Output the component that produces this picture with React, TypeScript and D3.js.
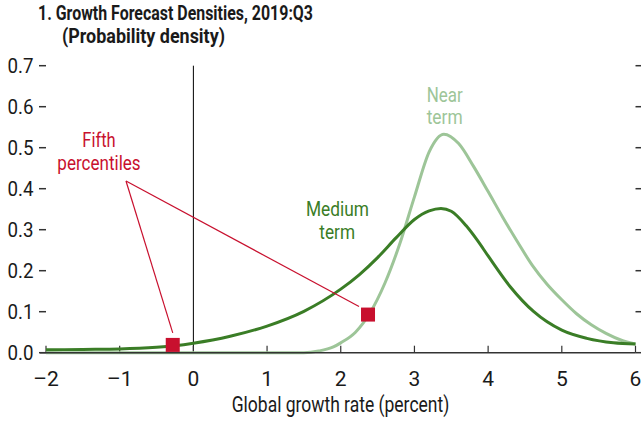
import React from "react";
import * as d3 from "d3";

const xTicks = [-2, -1, 0, 1, 2, 3, 4, 5, 6];
const yTicks = [0, 0.1, 0.2, 0.3, 0.4, 0.5, 0.6, 0.7];

const nearX = [-2, 0, 1.5, 1.7, 1.9, 2.0, 2.2, 2.4, 2.6, 2.8, 3.0, 3.2, 3.4, 3.6, 3.8, 4.0, 4.2, 4.4, 4.6, 4.8, 5.0, 5.2, 5.4, 5.6, 5.8, 6.0];
const nearY = [0, 0, 0, 0.004, 0.014, 0.024, 0.05, 0.098, 0.17, 0.265, 0.38, 0.49, 0.533, 0.51, 0.455, 0.393, 0.33, 0.27, 0.213, 0.167, 0.129, 0.095, 0.068, 0.047, 0.031, 0.021];

const medX = [-2, -1.5, -1, -0.5, -0.25, 0, 0.5, 1, 1.5, 2, 2.25, 2.5, 2.75, 3.0, 3.2, 3.36, 3.5, 3.7, 3.85, 4.0, 4.3, 4.62, 5.0, 5.34, 5.7, 6.0];
const medY = [0.007, 0.008, 0.009, 0.013, 0.017, 0.023, 0.04, 0.065, 0.101, 0.155, 0.19, 0.232, 0.28, 0.325, 0.346, 0.352, 0.345, 0.31, 0.275, 0.236, 0.161, 0.1, 0.055, 0.035, 0.024, 0.021];

const pctX = [-0.28, 2.37];
const pctY = [0.019, 0.093];

const NEAR = "#9dc598";
const MED = "#3a7d26";
const RED = "#c8102e";
const INK = "#1a1a1a";
const FONT = "Roboto, 'Liberation Sans', sans-serif";

type TProps = { x: number; y: number; w?: number; size: number; fill: string; anchor?: string; bold?: boolean; children: string };
function T({ x, y, w, size, fill, anchor = "start", bold = false, children }: TProps) {
  return (
    <text
      x={x}
      y={y}
      fontSize={size}
      fill={fill}
      textAnchor={anchor}
      fontWeight={bold ? "bold" : "normal"}
      {...(w ? { textLength: w, lengthAdjust: "spacingAndGlyphs" } : {})}
    >
      {children}
    </text>
  );
}

export default function App() {
  const W = 641, H = 424;
  const x = d3.scaleLinear().domain([-2, 6]).range([46, 635.5]);
  const y = d3.scaleLinear().domain([0, 0.7]).range([352.7, 65.7]);
  const line = d3.line<[number, number]>().x(d => x(d[0])).y(d => y(d[1])).curve(d3.curveMonotoneX);
  const near = line(nearX.map((v, i) => [v, nearY[i]]) as [number, number][]) || "";
  const med = line(medX.map((v, i) => [v, medY[i]]) as [number, number][]) || "";
  const annX = 126, annY = 181;
  const sq = 14;
  return (
    <svg width={W} height={H} style={{ position: "absolute", left: 0, top: 0 }} fontFamily={FONT}>
      <rect width={W} height={H} fill="#fff" />
      <T x={38} y={20} w={275} size={19.5} bold fill={INK}>1. Growth Forecast Densities, 2019:Q3</T>
      <T x={62} y={42.5} w={163} size={19.5} bold fill={INK}>(Probability density)</T>
      {yTicks.map(t => (
        <g key={t}>
          <T x={33.5} y={y(t) + 7.4} w={26} size={21} anchor="end" fill={INK}>{t.toFixed(1)}</T>
          <line x1={39} x2={46} y1={y(t)} y2={y(t)} stroke="#333" strokeWidth={1.5} />
          <line x1={635.5} x2={641} y1={y(t)} y2={y(t)} stroke="#333" strokeWidth={1.5} />
        </g>
      ))}
      <line x1={x(0)} x2={x(0)} y1={y(0.7)} y2={y(0)} stroke="#000" strokeWidth={1} />
      {xTicks.map(t => (
        <g key={t}>
          <line x1={x(t)} x2={x(t)} y1={y(0)} y2={y(0) - 7} stroke="#333" strokeWidth={1.2} />
          <T x={x(t)} y={385.7} size={21} anchor="middle" fill={INK}>{t < 0 ? "\u2013" + Math.abs(t) : String(t)}</T>
        </g>
      ))}
      <path d={near} fill="none" stroke={NEAR} strokeWidth={3} />
      <path d={med} fill="none" stroke={MED} strokeWidth={3} />
      <line x1={40} x2={x(6)} y1={y(0)} y2={y(0)} stroke="#333" strokeWidth={1.5} />
      <line x1={annX} y1={annY} x2={x(pctX[0])} y2={y(pctY[0]) - sq / 2 - 5} stroke={RED} strokeWidth={1.2} />
      <line x1={annX} y1={annY} x2={x(pctX[1]) - sq / 2 - 2} y2={y(pctY[1]) - sq / 2 - 1} stroke={RED} strokeWidth={1.2} />
      {pctX.map((v, i) => (
        <rect key={i} x={x(v) - sq / 2} y={y(pctY[i]) - sq / 2} width={sq} height={sq} fill={RED} />
      ))}
      <T x={99} y={146.7} w={33.3} size={20.5} anchor="middle" fill={RED}>Fifth</T>
      <T x={99} y={170} w={83.3} size={20.5} anchor="middle" fill={RED}>percentiles</T>
      <T x={337.5} y={216} w={63} size={20.5} anchor="middle" fill={MED}>Medium</T>
      <T x={337.2} y={239.3} w={35.7} size={20.5} anchor="middle" fill={MED}>term</T>
      <T x={444.7} y={101.7} w={36} size={20.5} anchor="middle" fill={NEAR}>Near</T>
      <T x={444.7} y={124.3} w={36} size={20.5} anchor="middle" fill={NEAR}>term</T>
      <T x={340.5} y={412.3} w={217.6} size={21.5} anchor="middle" fill={INK}>Global growth rate (percent)</T>
    </svg>
  );
}
